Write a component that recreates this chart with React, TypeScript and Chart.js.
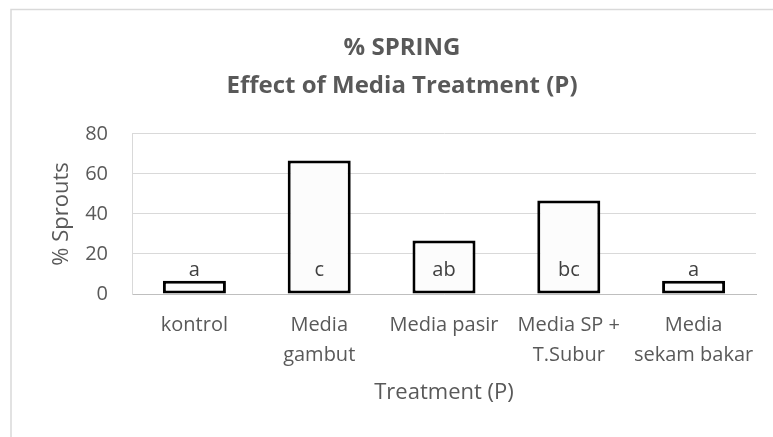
import React, { useEffect, useRef } from "react";
import { Chart, registerables } from "chart.js";

Chart.register(...registerables);

const categories: string[][] = [
  ["kontrol"],
  ["Media", "gambut"],
  ["Media pasir"],
  ["Media SP +", "T.Subur"],
  ["Media", "sekam bakar"],
];
const sproutValues: number[] = [6.67, 66.67, 26.67, 46.67, 6.67];
const letterLabels: string[] = ["a", "c", "ab", "bc", "a"];
const titleLines: string[] = ["% SPRING", "Effect of Media Treatment (P)"];
const yAxisTitle = "% Sprouts";
const xAxisTitle = "Treatment (P)";
const yMin = 0;
const yMax = 80;
const yStep = 20;

const FONT = "'Open Sans', sans-serif";

const framePlugin = {
  id: "frame",
  beforeDraw(chart: any) {
    const { ctx, width, height } = chart;
    ctx.save();
    ctx.fillStyle = "#ffffff";
    ctx.fillRect(0, 0, width, height);
    ctx.strokeStyle = "#d9d9d9";
    ctx.lineWidth = 1.5;
    ctx.beginPath();
    ctx.moveTo(11, height);
    ctx.lineTo(11, 9.5);
    ctx.lineTo(width, 9.5);
    ctx.stroke();
    ctx.restore();
  },
};

const letterPlugin = {
  id: "letters",
  afterDatasetsDraw(chart: any) {
    const { ctx } = chart;
    const meta = chart.getDatasetMeta(0);
    const yScale = chart.scales.y;
    const base = yScale.getPixelForValue(0);
    ctx.save();
    ctx.fillStyle = "#404040";
    ctx.font = `20px ${FONT}`;
    ctx.textAlign = "center";
    ctx.textBaseline = "middle";
    meta.data.forEach((el: any, i: number) => {
      ctx.fillText(letterLabels[i], el.x, base - 24);
    });
    ctx.restore();
  },
};

export default function App() {
  const ref = useRef<HTMLCanvasElement | null>(null);

  useEffect(() => {
    document.body.style.margin = "0";
    const canvas = ref.current;
    if (!canvas) return;
    const chart = new Chart(canvas, {
      type: "bar",
      data: {
        labels: categories,
        datasets: [
          {
            data: sproutValues,
            backgroundColor: "#fcfcfc",
            borderColor: "#000000",
            borderWidth: 3,
            borderSkipped: false,
            categoryPercentage: 1,
            barPercentage: 0.505,
          },
        ],
      },
      options: {
        animation: false,
        responsive: false,
        maintainAspectRatio: false,
        layout: { padding: { left: 48, right: 17, top: 0, bottom: 0 } },
        plugins: {
          legend: { display: false },
          tooltip: { enabled: false },
          title: {
            display: true,
            text: titleLines,
            color: "#595959",
            font: { family: FONT, size: 24, weight: "bold", lineHeight: 1.58 },
            padding: { top: 29, bottom: 29 },
          },
        },
        scales: {
          x: {
            grid: { display: false, drawTicks: false },
            border: { display: true, color: "#bfbfbf", width: 1 },
            ticks: {
              color: "#595959",
              font: { family: FONT, size: 20, lineHeight: 1.5 },
              padding: 16,
              maxRotation: 0,
              minRotation: 0,
              autoSkip: false,
            },
            title: {
              display: true,
              text: xAxisTitle,
              color: "#595959",
              font: { family: FONT, size: 22 },
              padding: { top: 0, bottom: 31 },
            },
            afterFit(scale: any) {
              scale.height = 143;
            },
          },
          y: {
            min: yMin,
            max: yMax,
            grid: { color: "#d9d9d9", lineWidth: 1, drawTicks: false },
            border: { display: true, color: "#d9d9d9", width: 1 },
            ticks: {
              stepSize: yStep,
              color: "#595959",
              font: { family: FONT, size: 20 },
              padding: 24,
            },
            title: {
              display: true,
              text: yAxisTitle,
              color: "#595959",
              font: { family: FONT, size: 22 },
              padding: { top: 1, bottom: 0 },
            },
            afterFit(scale: any) {
              scale.width = 84;
            },
          },
        },
      },
      plugins: [framePlugin, letterPlugin],
    });
    return () => chart.destroy();
  }, []);

  return (
    <div style={{ width: 773, height: 437 }}>
      <canvas ref={ref} width={773} height={437} style={{ display: "block" }} />
    </div>
  );
}
